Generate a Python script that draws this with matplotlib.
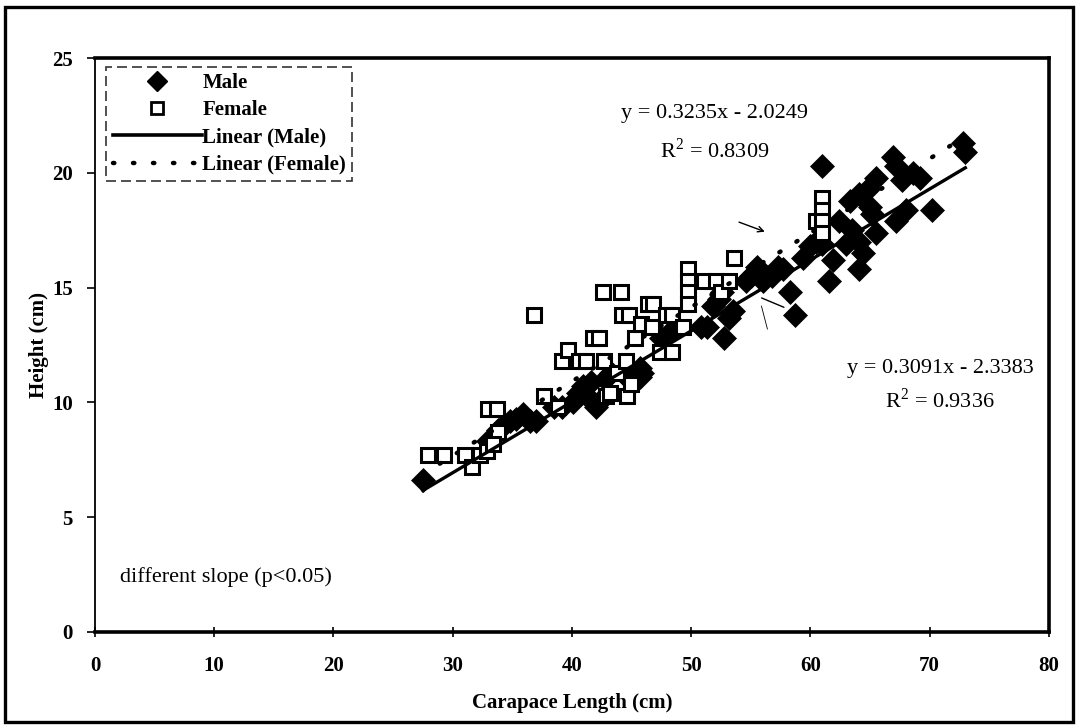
import numpy as np
import matplotlib
matplotlib.use("Agg")
import matplotlib.pyplot as plt
from matplotlib.lines import Line2D
from matplotlib.patches import Rectangle

plt.rcParams['font.family'] = ['Liberation Serif', 'DejaVu Serif']
plt.rcParams['mathtext.fontset'] = 'custom'
plt.rcParams['mathtext.rm'] = 'Liberation Serif'

# Male measurements: carapace length (cm) and height (cm)
male_x = [27.5, 33.0, 33.8, 34.3, 34.8, 35.3, 35.9, 36.5, 37.0, 38.5, 39.2, 40.1,
          40.5, 40.9, 41.3, 41.6, 42.0, 42.3, 42.8, 43.3, 44.3, 44.8, 45.2, 45.7,
          45.7, 45.9, 47.5, 48.5, 50.8, 51.3, 51.8, 52.3, 52.6, 52.8, 53.2, 53.5,
          54.6, 55.0, 55.5, 56.0, 56.8, 57.3, 57.7, 58.3, 58.7, 59.4, 60.0, 60.5,
          61.0, 61.0, 61.6, 61.9, 62.4, 63.0, 63.3, 63.5, 64.1, 64.1, 64.1, 64.4,
          64.8, 65.0, 65.2, 65.5, 65.5, 66.9, 67.2, 67.2, 67.7, 68.0, 68.6, 69.2,
          70.2, 72.8, 73.0]
male_y = [6.6, 8.3, 8.8, 9.0, 9.2, 9.3, 9.5, 9.2, 9.2, 9.8, 9.8, 10.0,
          10.4, 10.7, 10.3, 10.9, 9.8, 10.0, 11.0, 11.3, 11.3, 11.0, 10.9, 11.1,
          11.5, 11.3, 12.8, 13.2, 13.3, 13.3, 14.2, 14.5, 14.8, 12.8, 13.7, 14.0,
          15.3, 15.5, 15.9, 15.3, 15.5, 15.9, 15.8, 14.8, 13.8, 16.3, 16.8, 17.0,
          20.3, 16.9, 15.3, 16.2, 17.9, 16.9, 18.8, 17.5, 19.1, 17.0, 15.8, 16.5,
          19.3, 18.5, 18.2, 19.8, 17.4, 20.7, 20.3, 17.9, 19.7, 18.4, 20.0, 19.8,
          18.4, 21.3, 20.9]

# Female measurements
female_x = [27.9, 29.3, 31.0, 31.6, 32.3, 32.9, 33.0, 33.7, 33.8, 33.4, 36.8, 37.7,
            38.8, 39.2, 39.7, 40.6, 41.2, 41.8, 42.3, 42.7, 42.6, 42.9, 43.2, 43.8,
            44.1, 44.2, 44.5, 44.6, 44.8, 45.0, 45.3, 45.8, 46.4, 46.7, 46.8, 47.4,
            47.9, 48.4, 48.4, 49.3, 49.7, 49.7, 49.7, 49.7, 51.1, 52.1, 52.5, 53.2,
            53.6, 60.5, 61.0, 61.0, 61.0, 61.0]
female_y = [7.7, 7.7, 7.7, 7.2, 7.7, 7.9, 9.7, 9.7, 8.7, 8.2, 13.8, 10.3,
            9.8, 11.8, 12.3, 11.8, 11.8, 12.8, 12.8, 11.8, 14.8, 10.3, 10.4, 11.3,
            14.8, 13.8, 11.8, 10.3, 13.8, 10.8, 12.8, 13.4, 14.3, 13.3, 14.3, 12.2,
            13.8, 12.2, 13.8, 13.3, 15.8, 15.3, 14.8, 14.3, 15.3, 15.3, 14.8, 15.3,
            16.3, 17.9, 18.9, 18.4, 17.9, 17.4]

# Fitted trendlines
male_slope, male_icpt, male_r2 = 0.3091, -2.3383, 0.9336
female_slope, female_icpt, female_r2 = 0.3235, -2.0249, 0.8309
trend_x_range = (27.5, 73.0)

x_ticks = [0, 10, 20, 30, 40, 50, 60, 70, 80]
y_ticks = [0, 5, 10, 15, 20, 25]

fig = plt.figure(figsize=(10.79, 7.28), dpi=100)
ax = fig.add_axes([0.088, 0.132, 0.884, 0.788])

ax.plot(male_x, male_y, linestyle='none', marker='D', markersize=12.5,
        color='black', markeredgewidth=0.5, zorder=3)
ax.plot(female_x, female_y, linestyle='none', marker='s', markersize=10.5,
        markerfacecolor='white', markeredgecolor='black', markeredgewidth=2.2,
        zorder=4)

tx = np.array(trend_x_range)
ax.plot(tx, male_slope * tx + male_icpt, color='black', lw=2.4, zorder=5)
ax.plot(tx, female_slope * tx + female_icpt, color='black', lw=3.2,
        linestyle=(0, (0.3, 4.2)), dash_capstyle='round', zorder=5)

# Thin pointer strokes
ax.annotate('', xy=(56.4, 17.4), xytext=(53.8, 17.9),
            arrowprops=dict(arrowstyle='->', lw=1.0, color='black'))
ax.annotate('', xy=(58.0, 14.1), xytext=(55.7, 14.6),
            arrowprops=dict(arrowstyle='-', lw=1.0, color='black'))
ax.plot([55.9, 56.4], [14.2, 13.2], color='black', lw=0.6)

ax.set_xlim(0, 80)
ax.set_ylim(0, 25)
ax.set_xticks(x_ticks)
ax.set_yticks(y_ticks)
ax.tick_params(axis='y', direction='out', length=6, width=1.2, pad=10,
               labelsize=15)
ax.tick_params(axis='x', direction='inout', length=7, width=1.2, pad=14,
               labelsize=15)
for lab in ax.get_xticklabels() + ax.get_yticklabels():
    lab.set_fontweight('bold')

ax.spines['left'].set_linewidth(1.3)
ax.spines['bottom'].set_linewidth(2.6)
ax.spines['top'].set_linewidth(2.6)
ax.spines['right'].set_linewidth(2.6)

ax.set_xlabel('Carapace Length (cm)', fontsize=15, fontweight='bold', labelpad=12)
ax.set_ylabel('Height (cm)', fontsize=15, fontweight='bold', labelpad=2)

ax.text(52.0, 22.6, f'y = {female_slope}x - {abs(female_icpt)}', fontsize=16,
        ha='center', va='center')
ax.text(52.0, 21.0, f'R$^2$ = {female_r2}', fontsize=16, ha='center',
        va='center')
ax.text(70.9, 11.5, f'y = {male_slope}x - {abs(male_icpt)}', fontsize=16,
        ha='center', va='center')
ax.text(70.9, 10.1, f'R$^2$ = {male_r2}', fontsize=16, ha='center',
        va='center')
ax.text(2.1, 2.4, 'different slope (p<0.05)', fontsize=16, ha='left',
        va='center')

handles = [
    Line2D([], [], linestyle='none', marker='D', markersize=10, color='black'),
    Line2D([], [], linestyle='none', marker='s', markersize=9,
           markerfacecolor='white', markeredgecolor='black', markeredgewidth=2),
    Line2D([], [], color='black', lw=2.6),
    Line2D([], [], color='black', lw=3.2, linestyle=(0, (0.3, 4.2)),
           dash_capstyle='round'),
]
labels = ['Male', 'Female', 'Linear (Male)', 'Linear (Female)']
leg = ax.legend(handles, labels, loc='upper left',
                bbox_to_anchor=(0.012, 0.985), frameon=True, fancybox=False,
                fontsize=15, handlelength=4.3, handletextpad=0.0,
                borderpad=0.3, labelspacing=0.35, borderaxespad=0.0)
frame = leg.get_frame()
frame.set_edgecolor('black')
frame.set_linewidth(1.2)
frame.set_linestyle((0, (6, 3)))
for t in leg.get_texts():
    t.set_fontweight('bold')

# Outer figure border
fig.patches.append(Rectangle((0.005, 0.008), 0.989, 0.982,
                             transform=fig.transFigure, fill=False,
                             edgecolor='black', linewidth=2.4))

fig.savefig('out.png', dpi=100)
